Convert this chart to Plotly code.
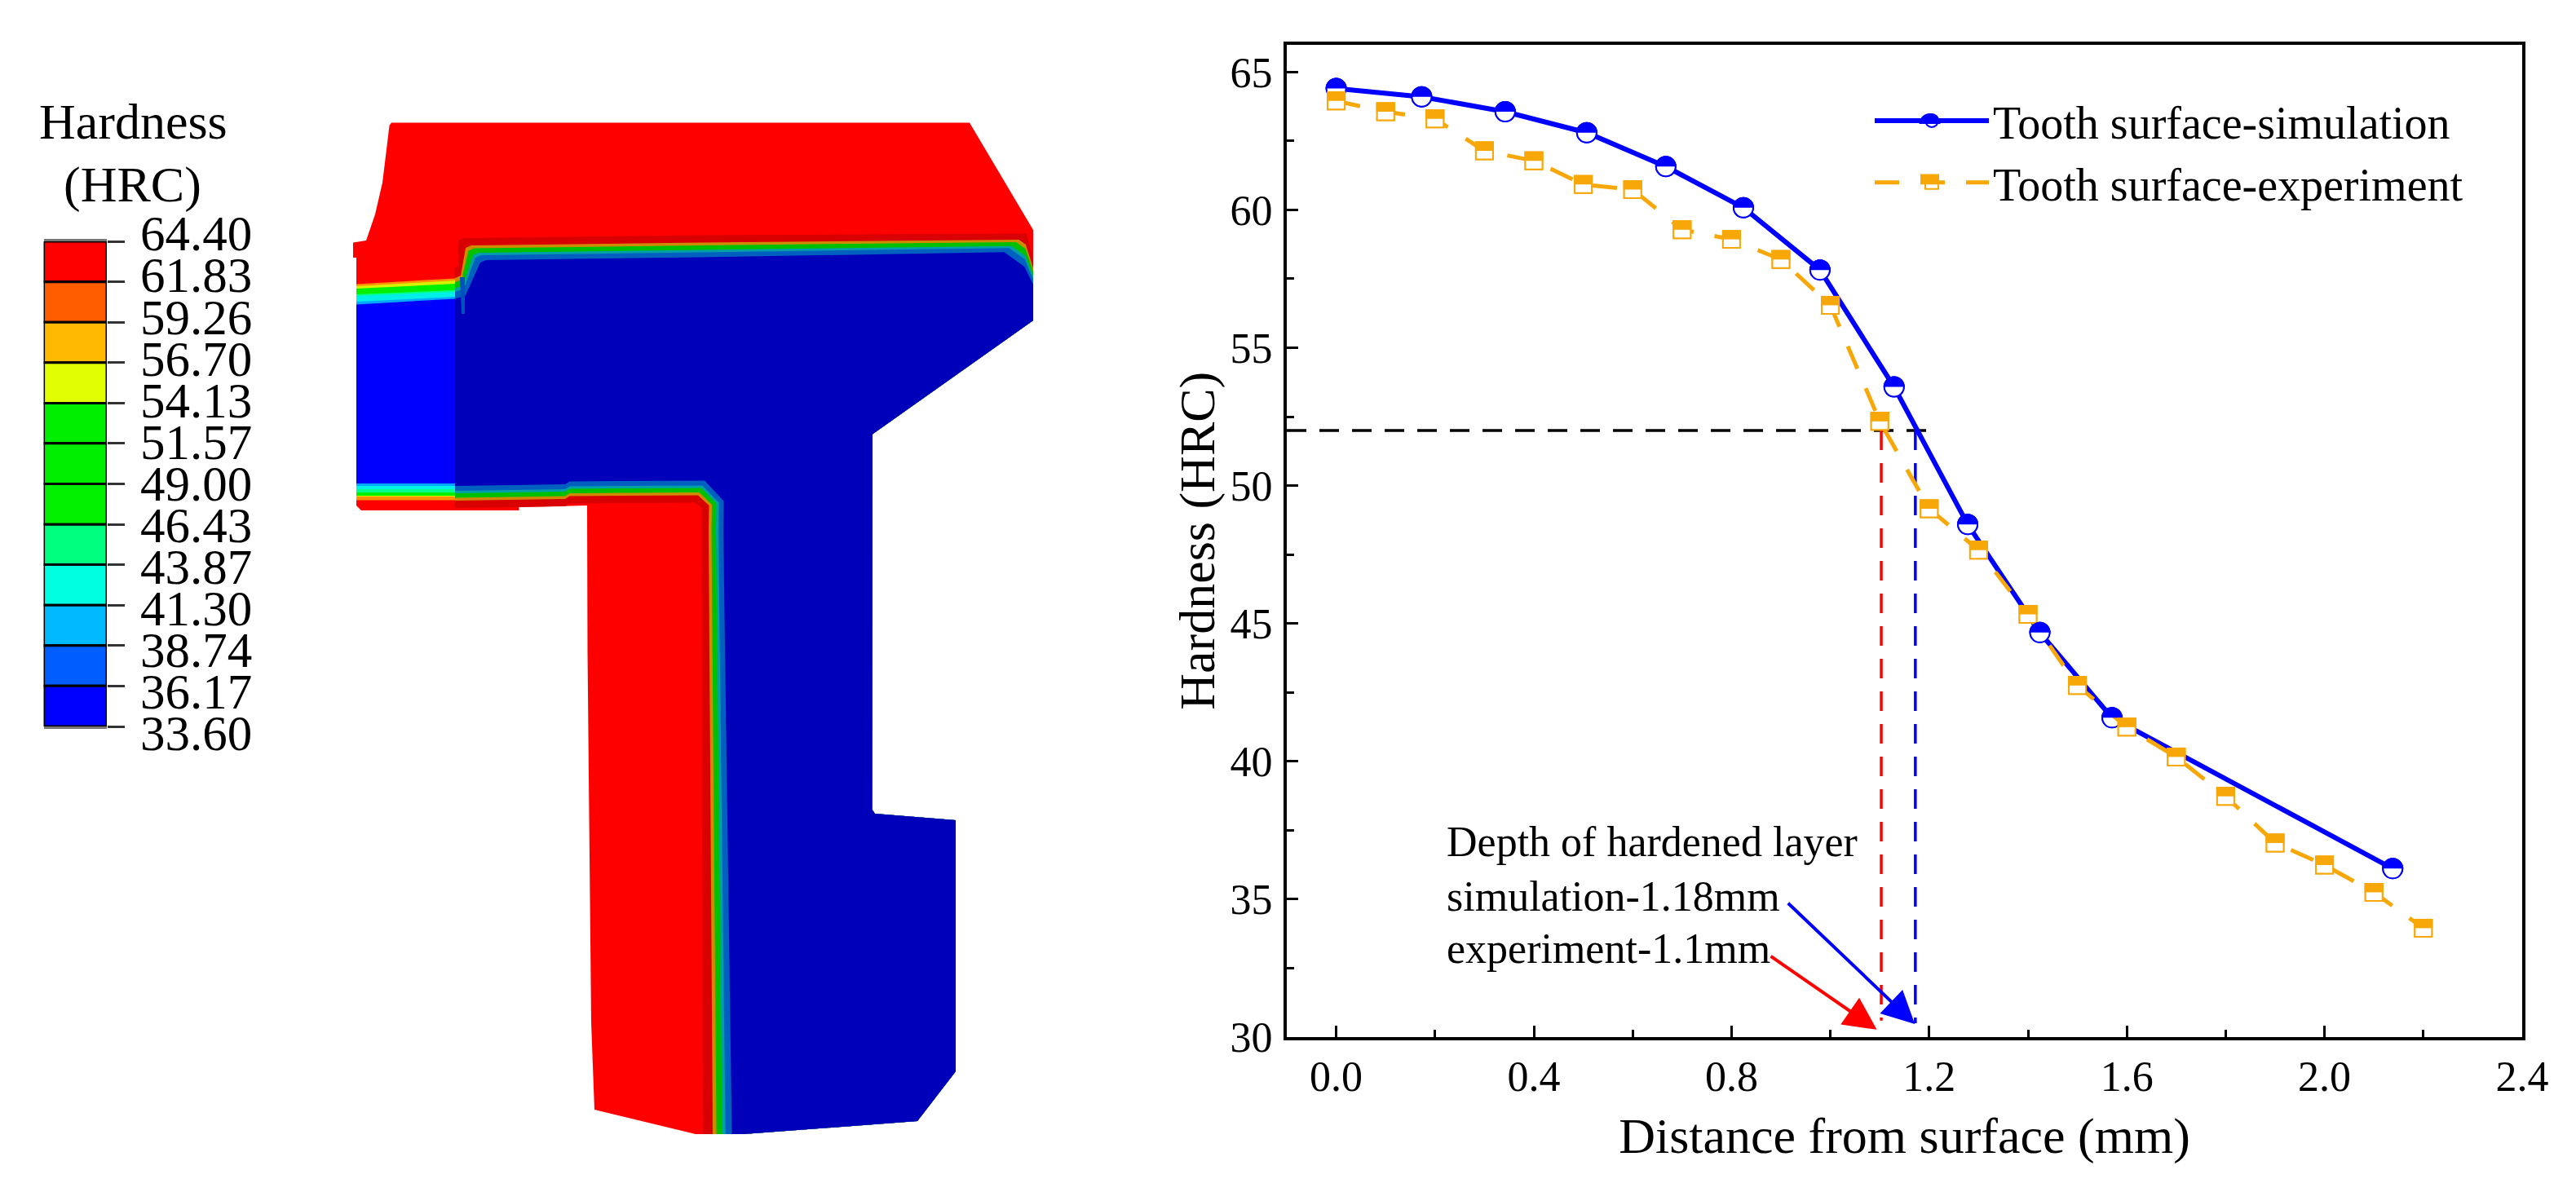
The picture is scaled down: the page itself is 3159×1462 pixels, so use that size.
import plotly.graph_objects as go

W, H = 3159, 1462
FONT = "Liberation Serif"

# ---------- hardness curves ----------
sim_x = [0.0, 0.173, 0.342, 0.507, 0.667, 0.824, 0.979, 1.129, 1.278, 1.424, 1.570, 2.138]
sim_y = [64.4, 64.1, 63.56, 62.8, 61.57, 60.08, 57.82, 53.58, 48.59, 44.67, 41.58, 36.11]
exp_x = [0.0, 0.1, 0.2, 0.3, 0.4, 0.5, 0.6, 0.7, 0.8, 0.9, 1.0, 1.1, 1.2, 1.3, 1.4, 1.5, 1.6, 1.7, 1.8, 1.9, 2.0, 2.1, 2.2]
exp_y = [63.95, 63.56, 63.3, 62.14, 61.78, 60.92, 60.74, 59.28, 58.93, 58.2, 56.54, 52.33, 49.16, 47.66, 45.33,
         42.75, 41.24, 40.16, 38.73, 37.04, 36.24, 35.25, 33.95]
x_ticks = [0.0, 0.4, 0.8, 1.2, 1.6, 2.0, 2.4]
x_tick_labels = ["0.0", "0.4", "0.8", "1.2", "1.6", "2.0", "2.4"]
y_ticks = [30, 35, 40, 45, 50, 55, 60, 65]
guide_black_x, guide_black_y = [-0.1, 1.2], [52, 52]
guide_red_x, guide_red_y = [1.103, 1.103], [52, 30.6]
guide_blue_x, guide_blue_y = [1.172, 1.172], [52, 30.5]
note_lines = ["Depth of hardened layer", "simulation-1.18mm", "experiment-1.1mm"]
note_y_px = [1032, 1099, 1163]

# ---------- contour legend ----------
levels = [64.40, 61.83, 59.26, 56.70, 54.13, 51.57, 49.00, 46.43, 43.87, 41.30, 38.74, 36.17, 33.60]
level_labels = ["64.40", "61.83", "59.26", "56.70", "54.13", "51.57", "49.00", "46.43", "43.87", "41.30", "38.74", "36.17", "33.60"]
level_colors = ["#ff0000", "#ff5d00", "#ffb900", "#e1ff00", "#00ee00", "#00ee00", "#00f000", "#00ff7f", "#00ffe0",
                "#00b9ff", "#005dff", "#0000ff"]

# ---------- part cross-section (image pixels) ----------
outline_x = [480, 1189, 1267, 1267, 1070, 1069.5, 1073, 1172, 1172, 1125, 911, 853, 729, 725, 720.5, 720, 636.5, 636.5,
             443, 437, 437, 433, 433, 449, 460, 469, 475, 477.5]
outline_y = [150.5, 150.5, 282, 393, 532.5, 993, 998, 1006, 1314, 1375, 1391, 1391, 1361, 1254, 799, 620, 622, 626,
             626, 620, 316, 316, 297.5, 295, 263, 224, 175, 154]
# left zone bands
left_colors = ["#ff9000", "#d8f000", "#00f000", "#00ff90", "#00f0e8", "#00a8ff", "#0000ff"]
left_top_a = [348.5, 351, 354, 361, 363, 370, 373.5]
left_top_b = [341.4, 344, 348, 356, 358, 364, 366.4]
left_bottom = [613.5, 609, 608, 604, 600, 596, 593]
left_x0, left_x1 = 437, 558
# right zone: boundary of the hardened case, and how far each band sits inside it
top_x = [558, 565, 571, 578, 859, 1249.5, 1258, 1267]
top_y = [341, 338, 304, 301, 297.5, 294, 300, 329]
top_dx = [0, 0.3, 1, 1, 0, -1, -0.1, 0]
top_dy = [1.4, 1.4, 1, 1, 1, 0.85, 1.5, 1.1]
bot_x = [558, 693, 698.5, 856, 869.5, 869, 874, 874]
bot_y = [614, 612, 608.5, 607.4, 620, 650, 1386, 1391]
bot_dx = [0, 0, 0, 0.45, 1, 1, 1.3, 1.3]
bot_dy = [-1, -1, -1, -1, -0.3, 0, 0, 0]
core_edge_x = [1267, 1070, 1069.5, 1073, 1172, 1172, 1125, 911]
core_edge_y = [393, 532.5, 993, 998, 1006, 1314, 1375, 1391]
band_depth = [-9, 0, 3.5, 9, 12, 18]
band_colors = ["#d80000", "#d08a00", "#00c000", "#00a0a8", "#0060c0", "#0000bb"]
stub_x = [564, 570, 570, 566]
stub_y = [340, 340, 385, 385]

SIM = "#0000ff"
EXP = "#f7a808"

fig = go.Figure()
px_axes = dict(xaxis="x2", yaxis="y2", showlegend=False, hoverinfo="skip")


def poly(xs, ys, color):
    fig.add_trace(go.Scatter(x=xs, y=ys, mode="lines", fill="toself", fillcolor=color,
                             line=dict(width=0, color=color), **px_axes))


poly(outline_x, outline_y, "#ff0000")
for c, a, b, e in zip(left_colors, left_top_a, left_top_b, left_bottom):
    poly([left_x0, left_x1, left_x1, left_x0], [a, b, e, e], c)
for d, c in zip(band_depth, band_colors):
    tx = [x + d * k for x, k in zip(top_x, top_dx)]
    ty = [y + d * k for y, k in zip(top_y, top_dy)]
    bx = [x + d * k for x, k in zip(bot_x, bot_dx)]
    by = [y + d * k for y, k in zip(bot_y, bot_dy)]
    poly(tx + core_edge_x + bx[::-1], ty + core_edge_y + by[::-1], c)
poly(stub_x, stub_y, "#0050c0")

# contour legend bar
fig.add_trace(go.Bar(x=[0] * 12, y=[levels[i] - levels[i + 1] for i in range(12)], base=levels[1:], width=1,
                     marker=dict(color=level_colors, line=dict(color="#000000", width=3)),
                     xaxis="x3", yaxis="y3", showlegend=False, hoverinfo="skip"))
fig.add_trace(go.Scatter(x=[0] * 13, y=levels, mode="text", text=level_labels, textposition="middle right",
                         textfont=dict(family=FONT, size=61, color="black"), cliponaxis=False,
                         xaxis="x4", yaxis="y4", showlegend=False, hoverinfo="skip"))

# guides
for gx, gy, col in [(guide_black_x, guide_black_y, "black"), (guide_red_x, guide_red_y, "#ff0000"),
                    (guide_blue_x, guide_blue_y, "#0000ff")]:
    fig.add_trace(go.Scatter(x=gx, y=gy, mode="lines", showlegend=False, hoverinfo="skip",
                             line=dict(color=col, width=3.5, dash="24px,16px")))

# curves: the legend entry has a clear marker so the half-fill underneath it shows; the white marker body is a twin
for xs, ys, col, name, dash, lw, sym, size in [
    (sim_x, sim_y, SIM, "Tooth surface-simulation", "solid", 6, "circle", 24),
    (exp_x, exp_y, EXP, "Tooth surface-experiment", "30px,26px", 5, "square", 21),
]:
    fig.add_trace(go.Scatter(x=xs, y=ys, mode="lines+markers", name=name, line=dict(color=col, width=lw, dash=dash),
                             marker=dict(symbol=sym, size=size, color="rgba(255,255,255,0)",
                                         line=dict(color=col, width=2))))
    fig.add_trace(go.Scatter(x=xs, y=ys, mode="markers", showlegend=False, hoverinfo="skip",
                             marker=dict(symbol=sym, size=size, color="white", line=dict(color=col, width=2))))

# half-filled marker tops, anchored on the data
R = 13
HALF = f"M {-R} 0 C {-R} {0.55*R} {-0.55*R} {R} 0 {R} C {0.55*R} {R} {R} {0.55*R} {R} 0 Z"
shapes = []
for x, y in zip(sim_x, sim_y):
    shapes.append(dict(type="path", xref="x", yref="y", xsizemode="pixel", ysizemode="pixel", xanchor=x, yanchor=y,
                       path=HALF, fillcolor=SIM, line=dict(width=0)))
for x, y in zip(exp_x, exp_y):
    shapes.append(dict(type="rect", xref="x", yref="y", xsizemode="pixel", ysizemode="pixel", xanchor=x, yanchor=y,
                       x0=-11.5, x1=11.5, y0=0, y1=11.5, fillcolor=EXP, line=dict(width=0)))
# legend marker tops
LEG_X = 2366.5
shapes.append(dict(type="path", xref="x2", yref="y2", xsizemode="pixel", ysizemode="pixel", xanchor=LEG_X, yanchor=152,
                   path=HALF, fillcolor=SIM, line=dict(width=0)))
shapes.append(dict(type="rect", xref="x2", yref="y2", xsizemode="pixel", ysizemode="pixel", xanchor=LEG_X, yanchor=225,
                   x0=-11.5, x1=11.5, y0=0, y1=11.5, fillcolor=EXP, line=dict(width=0)))

annotations = [
    dict(text="Hardness", x=163, y=149, xref="x2", yref="y2", showarrow=False, font=dict(family=FONT, size=62)),
    dict(text="(HRC)", x=162, y=226, xref="x2", yref="y2", showarrow=False, font=dict(family=FONT, size=62)),
]
for t, y in zip(note_lines, note_y_px):
    annotations.append(dict(text=t, x=1772, y=y, xref="x2", yref="y2", xanchor="left", showarrow=False,
                            font=dict(family=FONT, size=52, color="black")))
for tail, head, col in [((0.912, 34.9), (1.171, 30.47), "#0000ff"), ((0.877, 32.96), (1.094, 30.27), "#ff0000")]:
    annotations.append(dict(text="", x=head[0], y=head[1], ax=tail[0], ay=tail[1], xref="x", yref="y",
                            axref="x", ayref="y", showarrow=True, arrowhead=2, arrowsize=2, arrowwidth=4,
                            arrowcolor=col))

axis_font = dict(family=FONT, size=52, color="black")
fig.update_layout(
    template="none",
    width=W, height=H, margin=dict(l=0, r=0, t=0, b=0, pad=0), autosize=False,
    paper_bgcolor="white", plot_bgcolor="rgba(0,0,0,0)", barmode="overlay",
    font=dict(family=FONT, color="black"),
    shapes=shapes, annotations=annotations,
    xaxis=dict(domain=[1578 / W, 3093 / W], range=[-0.1, 2.4], tickvals=x_ticks, ticktext=x_tick_labels,
               ticks="inside", ticklen=14, tickwidth=3, tickcolor="black", tickfont=axis_font, automargin=False,
               showline=True, linewidth=4, linecolor="black", mirror=True, showgrid=False, zeroline=False,
               minor=dict(ticks="inside", ticklen=9, tickwidth=3, tickcolor="black", dtick=0.2, tick0=0),
               title=dict(text="Distance from surface (mm)", font=dict(family=FONT, size=62), standoff=23)),
    yaxis=dict(domain=[1 - 1272 / H, 1 - 54.5 / H], range=[30, 66], tickvals=y_ticks,
               ticks="inside", ticklen=14, tickwidth=3, tickcolor="black", tickfont=axis_font, automargin=False,
               ticklabelstandoff=3,
               showline=True, linewidth=4, linecolor="black", mirror=True, showgrid=False, zeroline=False,
               minor=dict(ticks="inside", ticklen=9, tickwidth=3, tickcolor="black", dtick=2.5, tick0=30),
               title=dict(text="Hardness (HRC)", font=dict(family=FONT, size=62), standoff=0)),
    xaxis2=dict(domain=[0, 1], range=[0, W], visible=False, fixedrange=True, automargin=False),
    yaxis2=dict(domain=[0, 1], range=[H, 0], visible=False, fixedrange=True, automargin=False),
    xaxis3=dict(domain=[53.6 / W, 131 / W], range=[-0.5, 0.5], showticklabels=False, ticks="", showgrid=False,
                zeroline=False, showline=True, linecolor="#777777", linewidth=3, mirror=True, anchor="y3",
                automargin=False),
    yaxis3=dict(domain=[1 - 891 / H, 1 - 296 / H], range=[33.6, 64.4], side="right", anchor="x3", tickvals=levels,
                showticklabels=False, ticks="outside", ticklen=21, tickwidth=3, tickcolor="#333333", showgrid=False,
                zeroline=False, automargin=False),
    xaxis4=dict(domain=[172 / W, 342 / W], range=[0, 1], visible=False, anchor="y4", automargin=False),
    yaxis4=dict(domain=[1 - 905 / H, 1 - 292 / H], range=[33.6, 64.4], visible=False, anchor="x4", automargin=False),
    legend=dict(x=2294 / W, y=1 - 105 / H, xanchor="left", yanchor="top", itemwidth=140, bgcolor="rgba(0,0,0,0)",
                font=dict(family=FONT, size=56, color="black"), borderwidth=0),
)

fig.write_html("out.html", config=dict(displayModeBar=False),
               post_script="document.body.style.margin='0';document.body.style.overflow='hidden';")
